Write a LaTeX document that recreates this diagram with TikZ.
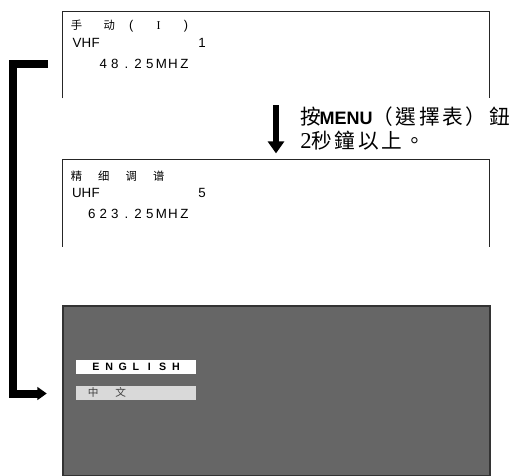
\documentclass[tikz,border=0pt]{standalone}
\usepackage{fontspec}
\setmainfont{Liberation Serif}
\setsansfont{Liberation Sans}
\newfontfamily\cjktc{Noto Sans CJK TC}
\newfontfamily\cjksc{Noto Sans CJK SC}
\usetikzlibrary{arrows.meta, positioning, calc}
\definecolor{cScreen}{HTML}{666666}
\definecolor{cScreenEdge}{HTML}{333333}
\definecolor{cBar}{HTML}{D9D9D9}
\newcommand\gc[1]{\makebox[8.7pt]{#1}}
\newcommand\vc[1]{\makebox[7pt]{#1}}
\newcommand\wc[1]{\makebox[20.55pt]{#1}}
\newcommand\ec[1]{\makebox[10pt]{#1}}
\newcommand\bc[1]{\makebox[17.5pt][l]{\cjktc #1}}
\tikzset{
	panel/.style    ={rectangle, inner sep=0pt, minimum width=320.25pt, minimum height=65pt},
	frame/.style    ={draw=black!85, line width=0.8pt},
	osd/.style      ={anchor=base west, inner sep=0pt, font=\sffamily\fontsize{10}{11}\selectfont},
	osdcjk/.style   ={osd, font=\cjksc\fontsize{8.5}{9}\selectfont},
	screen/.style   ={rectangle, inner sep=0pt, fill=cScreen, draw=cScreenEdge, line width=1.1pt, minimum width=320.25pt, minimum height=127.5pt},
	bar/.style      ={rectangle, inner sep=0pt, minimum width=90pt, minimum height=10.5pt},
	note/.style     ={anchor=base west, inner sep=0pt, font=\fontsize{15.5}{18}\selectfont},
	downarrow/.style={-{Triangle[width=12pt, length=9pt]}, line width=4.5pt},
	bracket/.style  ={-{Triangle[width=9.5pt, length=7pt]}, line width=6pt},
}
\begin{document}
\begin{tikzpicture}[x=0.75pt, y=-0.75pt]
	\useasboundingbox (0,0) rectangle (513,475);
	% two channel panels, open at the bottom
	\node[panel] (b1) at (276,54.75) {};
	\node[panel] (b2) at (276,203) {};
	\draw[frame] (b1.south west) |- (b1.north east) -- (b1.south east);
	\draw[frame] (b2.south west) |- (b2.north east) -- (b2.south east);
	\node[osdcjk] (m1) at (62.5,29.5) {\wc{手}\wc{\hspace{8pt}动}\wc{\sffamily\fontsize{9.5}{10}\selectfont(}\wc{\rmfamily\fontsize{9}{10}\selectfont I}\wc{\sffamily\fontsize{9.5}{10}\selectfont)}};
	\node[osd] (m2) at (72.1,47.7) {\vc{V}\vc{H}\vc{F}\hspace{72.75pt}\vc{1}};
	\node[osd] (m3) at (97.3,68.3) {\gc{4}\gc{8}\gc{.}\gc{2}\gc{5}\gc{M}\gc{H}\gc{Z}};
	\node[osdcjk] (f1) at (62.5,180.5) {\wc{精}\wc{细}\wc{调}\wc{谱}};
	\node[osd] (f2) at (72.1,197.7) {\vc{U}\vc{H}\vc{F}\hspace{72.75pt}\vc{5}};
	\node[osd] (f3) at (85.7,218) {\gc{6}\gc{2}\gc{3}\gc{.}\gc{2}\gc{5}\gc{M}\gc{H}\gc{Z}};
	% instruction
	\node[note] (n1) at (300,124) {\bc{按}\hspace{-3pt}{\sffamily\bfseries\fontsize{13.5}{14}\selectfont MENU}\bc{（}\bc{選}\bc{擇}\bc{表}\bc{）}\bc{鈕}};
	\node[note] (n2) at (300,148) {{\fontsize{17}{18}\selectfont 2}\bc{秒}\bc{鐘}\bc{以}\bc{上}\bc{。}};
	\draw[downarrow] ($(b1.south)+(0,7)$) -- ($(b2.north)+(0,-6)$);
	% language screen
	\node[screen] (scr) at (276.5,391) {};
	\node[bar, fill=white, font=\sffamily\bfseries\fontsize{8}{9}\selectfont] (en) at (136,367) {\ec{E}\ec{N}\ec{G}\ec{L}\ec{I}\ec{S}\ec{H}};
	\node[bar, fill=cBar, text=black!75, font=\cjksc\fontsize{8}{9}\selectfont] (zh) at (136,392.75) {\makebox[90pt][l]{\hspace{2.7pt}\wc{中}\wc{文}}};
	\draw[bracket] ($(b1.west)+(-14.5,9)$) -- ++(-35,0) |- ($(zh.west)+(-29,0.75)$);
\end{tikzpicture}
\end{document}
